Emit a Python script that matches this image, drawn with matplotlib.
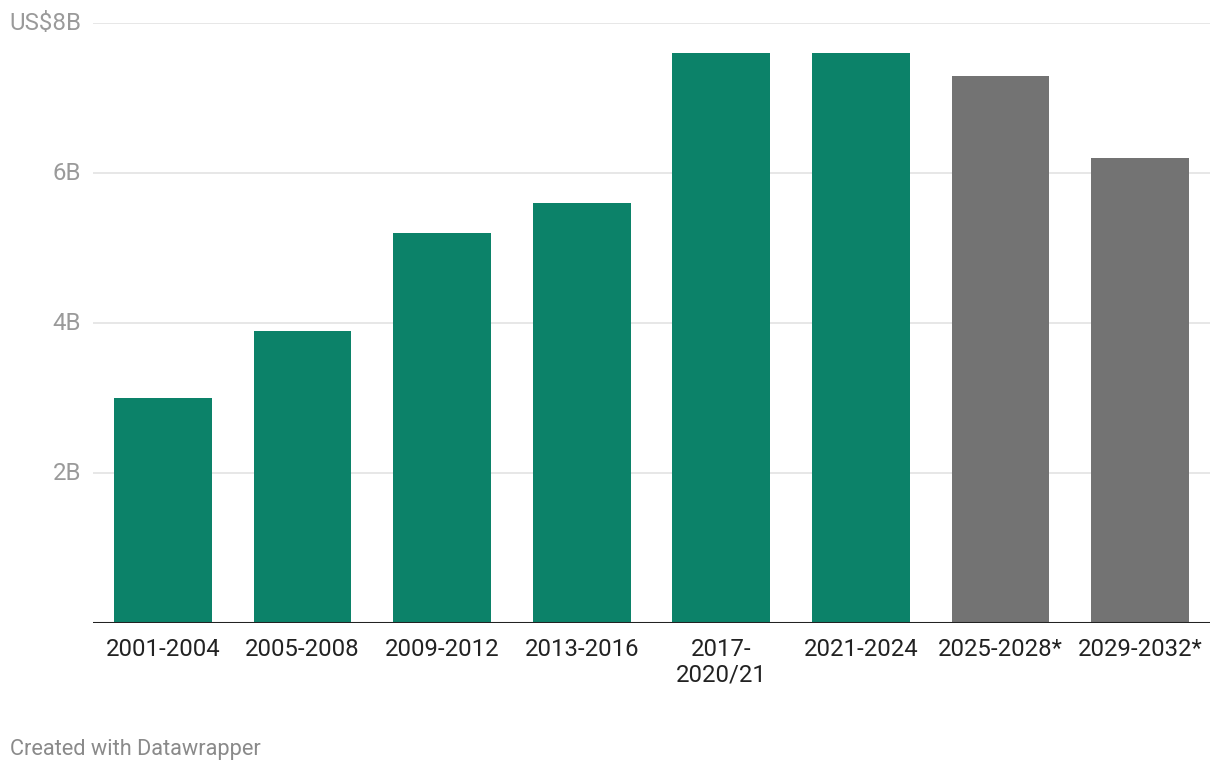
import matplotlib
matplotlib.use("Agg")
import matplotlib.pyplot as plt

categories = ["2001-2004", "2005-2008", "2009-2012", "2013-2016",
              "2017-\n2020/21", "2021-2024", "2025-2028*", "2029-2032*"]
values = [3.0, 3.9, 5.2, 5.6, 7.6, 7.6, 7.3, 6.2]
projected = [False, False, False, False, False, False, True, True]
ytick_vals = [2, 4, 6, 8]
ytick_labels = ["2B", "4B", "6B", "US$8B"]

GREEN = "#0c8269"
GREY = "#737373"

plt.rcParams['font.family'] = ['Roboto', 'DejaVu Sans']

fig = plt.figure(figsize=(12.2, 7.72), dpi=100)
W, H = 1220, 772
left, right = 93 / W, 1210 / W
bottom, top = (H - 623) / H, (H - 23) / H
ax = fig.add_axes([left, bottom, right - left, top - bottom])

x = list(range(len(categories)))
colors = [GREY if p else GREEN for p in projected]
ax.bar(x, values, width=0.7, color=colors, zorder=3)

ax.set_xlim(-0.5, len(categories) - 0.5)
ax.set_ylim(0, 8)

for v in ytick_vals:
    ax.axhline(v, color="#e5e5e5", lw=1.3, zorder=1)
ax.axhline(0, color="#222222", lw=2.2, zorder=4)

ax.set_yticks([])
ax.set_xticks(x)
ax.set_xticklabels(categories, fontsize=17.2, color="#222222", linespacing=1.1)
ax.tick_params(axis="x", length=0, pad=11)

for v, lab in zip(ytick_vals, ytick_labels):
    ax.text(-0.585, v, lab, ha="right", va="center", fontsize=17.3,
            color="#9a9a9a", transform=ax.transData)

for s in ax.spines.values():
    s.set_visible(False)

fig.text(10 / W, (H - 750) / H, "Created with Datawrapper", fontsize=15.7,
         color="#8a8a8a", ha="left", va="center")

fig.savefig("out.png", dpi=100)
